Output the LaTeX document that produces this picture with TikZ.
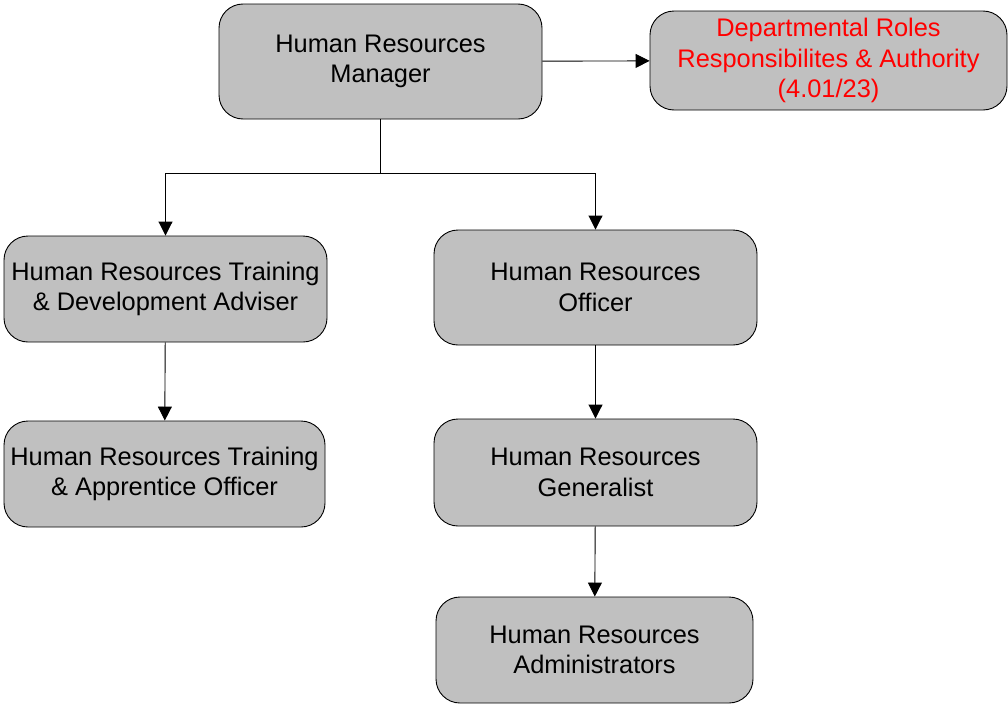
\documentclass[tikz,border=0pt]{standalone}
\usepackage{fontspec}
\setmainfont{Liberation Sans}
\usetikzlibrary{arrows.meta}
\definecolor{boxgray}{HTML}{C0C0C0}
\begin{document}
\begin{tikzpicture}
[x=1pt,y=-1pt,
  boxdecorate/.style={shape=rectangle,rounded corners=24pt,draw=black,line width=0.9pt,
    fill=boxgray,align=center,inner sep=2pt,font=\fontsize{25.4}{30.5}\selectfont},%
  linedecorate/.style={-{Triangle[width=14pt,length=14pt]},line width=0.9pt}]
\useasboundingbox (0,0) rectangle (1008,704);
%% boxes
\foreach \nodename/\x/\y/\w/\h/\label in {
  hrm/380.5/61.5/323/115/{Human Resources\\Manager},
  adviser/165.5/289/323/106/{Human Resources Training\\\& Development Adviser},
  officer/595.5/287.5/323/115/{Human Resources\\Officer},
  apprentice/164.5/474/321/106/{Human Resources Training\\\& Apprentice Officer},
  generalist/595.5/472.5/323/107/{Human Resources\\Generalist},
  admin/594.5/650/317/106/{Human Resources\\Administrators}} {
  \node (\nodename) at (\x,\y) [boxdecorate,minimum width=\w pt,minimum height=\h pt] {\label};
}
\node (roles) at (828.5,60.5) [boxdecorate,minimum width=357pt,minimum height=99pt,text=red]
  {Departmental Roles\\Responsibilites \& Authority\\(4.01/23)};
%% lines
\coordinate (split) at (380.5,173);
\draw[line width=0.9pt] (hrm.south) -- (split);
\draw[linedecorate] (split) -| (adviser.north);
\draw[linedecorate] (split) -| (officer.north);
\path
\foreach \startnode/\endnode in {hrm/roles, adviser/apprentice, officer/generalist, generalist/admin} {
  (\startnode) edge[linedecorate] (\endnode)
};
\end{tikzpicture}
\end{document}
